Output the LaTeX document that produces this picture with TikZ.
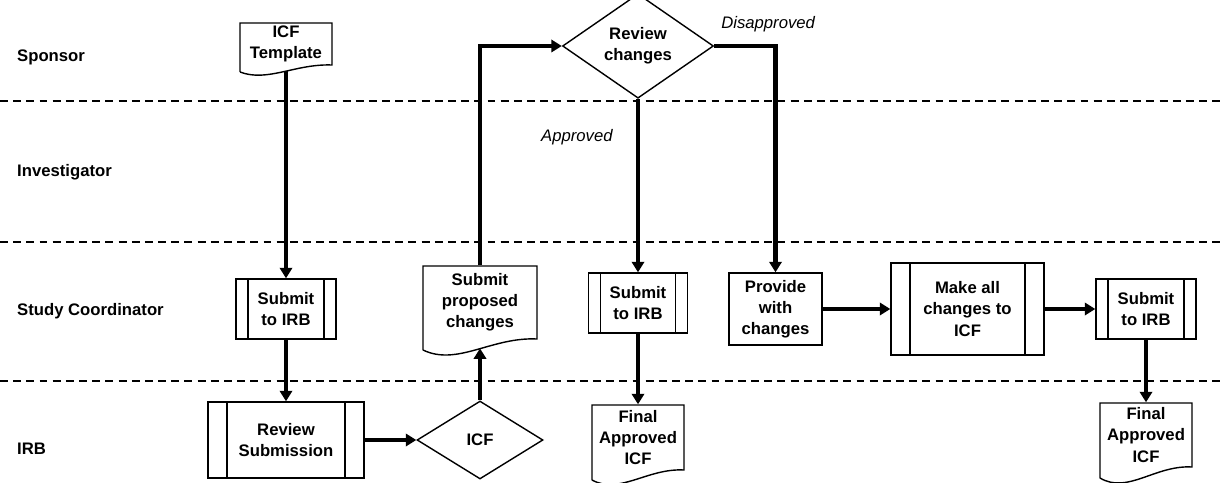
\documentclass[tikz,border=0pt]{standalone}
\usepackage{fontspec}
\setmainfont{Liberation Sans}
\usetikzlibrary{arrows.meta}
\usetikzlibrary{shapes.geometric}
\usetikzlibrary{positioning}

\tikzset{
  lane/.style={dash pattern=on 4.5pt off 3pt, line width=0.8pt},
  lanelabel/.style={anchor=west, font=\bfseries\fontsize{9.5}{11}\selectfont},
  box/.style={draw, line width=0.8pt, align=center, inner sep=0pt,
    font=\bfseries\fontsize{9.5}{12}\selectfont},
  process/.style={box, path picture={
    \draw[line width=0.8pt]
      ([xshift=#1]path picture bounding box.north west) -- ([xshift=#1]path picture bounding box.south west)
      ([xshift=-#1]path picture bounding box.north east) -- ([xshift=-#1]path picture bounding box.south east);}},
  process/.default=0.24cm,
  decision/.style={box, diamond},
  flow/.style={-{Triangle[length=6pt,width=7pt]}, line width=2.3pt},
  tag/.style={font=\itshape\fontsize{9.5}{12}\selectfont}
}

% document symbol: name, left, top, right, bottom (right side), wave depth, text
\newcommand\docnode[7]{%
  \draw[line width=0.8pt] (#2,{#5+#6}) -- (#2,#3) -- (#4,#3) -- (#4,#5)
    .. controls ({#2+0.6*(#4-#2)},{#5-0.2*#6}) and ({#2+0.3*(#4-#2)},{#5+2.5*#6}) .. (#2,{#5+#6});
  \node[box, draw=none, minimum width={(#4-#2)*0.02cm}, minimum height={(#5-#3)*0.02cm}]
    (#1) at ({(#2+#4)/2},{(#3+#5)/2}) {#7};
  \coordinate (#1 wave) at ({(#2+#4)/2},{#5+0.85*#6});
}

\begin{document}
\begin{tikzpicture}[x=0.02cm, y=-0.02cm]
  \useasboundingbox (0,0) rectangle (1223,483);

  % swim lanes
  \draw[lane] (0,101) -- (1223,101);
  \draw[lane] (0,242) -- (1223,242);
  \draw[lane] (0,381) -- (1223,381);
  \node[lanelabel] (sponsor) at (11,57) {Sponsor};
  \node[lanelabel] (investigator) at (11,172) {Investigator};
  \node[lanelabel] (coordinator) at (11,311) {Study Coordinator};
  \node[lanelabel] (irb) at (11,449) {IRB};

  % steps
  \docnode{template}{240}{23}{332}{65}{7}{ICF\\Template}
  \node[process, minimum width=2cm, minimum height=1.2cm] (submit1) at (286,309) {Submit\\to IRB};
  \node[process=0.38cm, minimum width=3.12cm, minimum height=1.52cm] (review) at (286,440) {Review\\Submission};
  \node[decision, minimum width=2.52cm, minimum height=1.56cm] (icf) at (480,440) {ICF};
  \docnode{proposed}{423}{266}{537}{339}{11}{Submit\\proposed\\changes}
  \node[decision, minimum width=3.02cm, minimum height=1.6cm] (changes) at (638,46) {Review\\changes};
  \node[process, minimum width=1.98cm, minimum height=1.2cm] (submit2) at (638,303) {Submit\\to IRB};
  \docnode{final1}{592}{405}{684}{470}{10}{Final\\Approved\\ICF}
  \node[box, minimum width=1.86cm, minimum height=1.44cm] (provide) at (775.5,309) {Provide\\with\\changes};
  \node[process=0.38cm, minimum width=3.06cm, minimum height=1.84cm] (makeall) at (967.5,309) {Make all\\changes to\\ICF};
  \node[process, minimum width=2cm, minimum height=1.2cm] (submit3) at (1146,309) {Submit\\to IRB};
  \docnode{final2}{1100}{403}{1192}{467}{11}{Final\\Approved\\ICF}

  % flow
  \draw[flow] (template wave) -- (submit1.north);
  \draw[flow] (submit1.south) -- (review.north);
  \draw[flow] (review.east) -- (icf.west);
  \draw[flow] (icf.north) -- (proposed wave);
  \draw[flow] (proposed.north) |- (changes.west);
  \draw[flow] (changes.south) -- node[tag, pos=0.22, left=0.35cm] {Approved} (submit2.north);
  \draw[flow] (changes.east) -| node[tag, pos=0.44, above=0.12cm] {Disapproved} (provide.north);
  \draw[flow] (submit2.south) -- (final1.north);
  \draw[flow] (provide.east) -- (makeall.west);
  \draw[flow] (makeall.east) -- (submit3.west);
  \draw[flow] (submit3.south) -- (final2.north);
\end{tikzpicture}
\end{document}
